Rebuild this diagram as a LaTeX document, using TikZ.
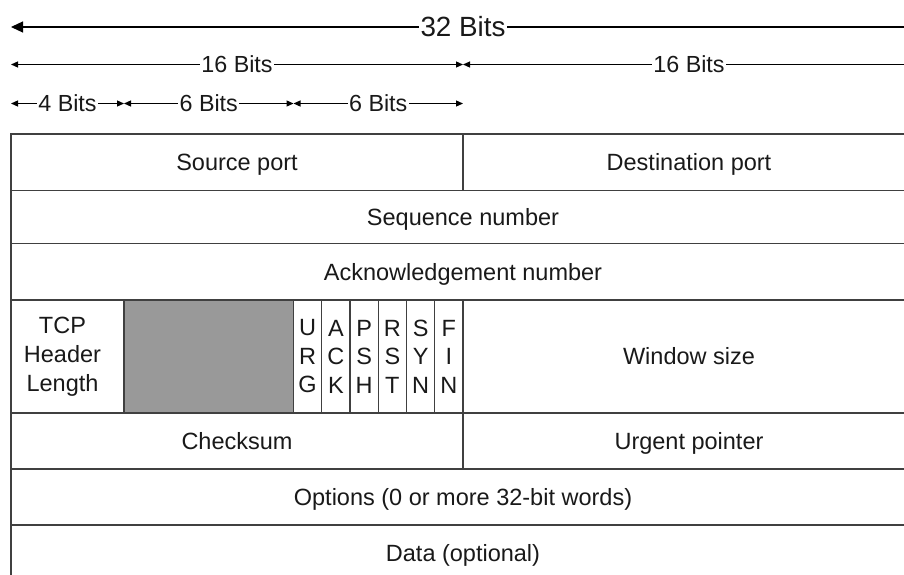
\documentclass[tikz,border=0pt]{standalone}
\usepackage{fontspec}
\setmainfont{Liberation Sans}
\usetikzlibrary{arrows.meta}

\begin{document}
\begin{tikzpicture}[x=1pt,y=-1pt,
  lbl/.style={font=\fontsize{23.3}{28}\selectfont, text=black!90, fill=white, inner xsep=1.5pt, inner ysep=0pt},
  biglbl/.style={lbl, font=\fontsize{27.8}{32}\selectfont},
  span/.style={line width=1.2pt, {Triangle[length=7pt,width=6pt]}-{Triangle[length=7pt,width=6pt]}},
  cell/.style={draw=black!75, line width=1.3pt, anchor=north west, inner sep=0pt, outer sep=0pt,
    font=\fontsize{23.5}{28.5}\selectfont, text=black!90, align=center},
  one/.style={cell, text height=16.8pt, text depth=0pt},
  pad/.style={cell, fill=black!40},
  celltext/.style={font=\fontsize{23.5}{29}\selectfont, text=black!90, align=center, inner sep=0pt},
]
\path[use as bounding box] (0,0) rectangle (904,574);
\clip (0,0) rectangle (904,574);

% bit positions of the scale rows
\foreach \row/\yy in {a/27, b/64.5, c/103.5} {
  \coordinate (\row0)  at (11,\yy);
  \coordinate (\row4)  at (124,\yy);
  \coordinate (\row10) at (293.5,\yy);
  \coordinate (\row16) at (463,\yy);
  \coordinate (\row32) at (915,\yy);
}

% scale arrows
\draw[line width=1.2pt, {Triangle[length=12pt,width=11pt]}-] (a0) -- node[biglbl] {32 Bits} (a32);
\draw[span] (b0) -- node[lbl] {16 Bits} (b16);
\draw[span] (b16) -- node[lbl] {16 Bits} (b32);
\draw[span] (c0) -- node[lbl] {4 Bits} (c4);
\draw[span] (c4) -- node[lbl] {6 Bits} (c10);
\draw[span] (c10) -- node[lbl] {6 Bits} (c16);

% header rows
\node[one, minimum width=452pt, minimum height=56.5pt] (src) at (11,134) {Source port};
\node[one, minimum width=452pt, minimum height=56.5pt] (dst) at (463,134) {Destination port};
\node[one, minimum width=904pt, minimum height=53pt] (seq) at (11,190.5) {Sequence number};
\node[one, minimum width=904pt, minimum height=56.5pt] (ack) at (11,243.5) {Acknowledgement number};

\node[cell, minimum width=113pt, minimum height=113pt] (hlen) at (11,300) {};
\node[celltext] (hlentext) at ([xshift=-5pt]hlen.center) {TCP\\Header\\Length};
\node[pad, minimum width=169.5pt, minimum height=113pt] (resv) at (124,300) {};
\foreach \i/\t in {0/U\\R\\G, 1/A\\C\\K, 2/P\\S\\H, 3/R\\S\\T, 4/S\\Y\\N, 5/F\\I\\N} {
  \node[cell, minimum width=28.25pt, minimum height=113pt] (flag\i) at (293.5+28.25*\i,300) {\t};
}
\node[one, minimum width=452pt, minimum height=113pt] (win) at (463,300) {Window size};

\node[one, minimum width=452pt, minimum height=56pt] (csum) at (11,413) {Checksum};
\node[one, minimum width=452pt, minimum height=56pt] (urg) at (463,413) {Urgent pointer};
\node[one, minimum width=904pt, minimum height=56pt] (opt) at (11,469) {Options (0 or more 32-bit words)};
\node[one, minimum width=904pt, minimum height=56pt] (data) at (11,525) {Data (optional)};
\end{tikzpicture}
\end{document}
